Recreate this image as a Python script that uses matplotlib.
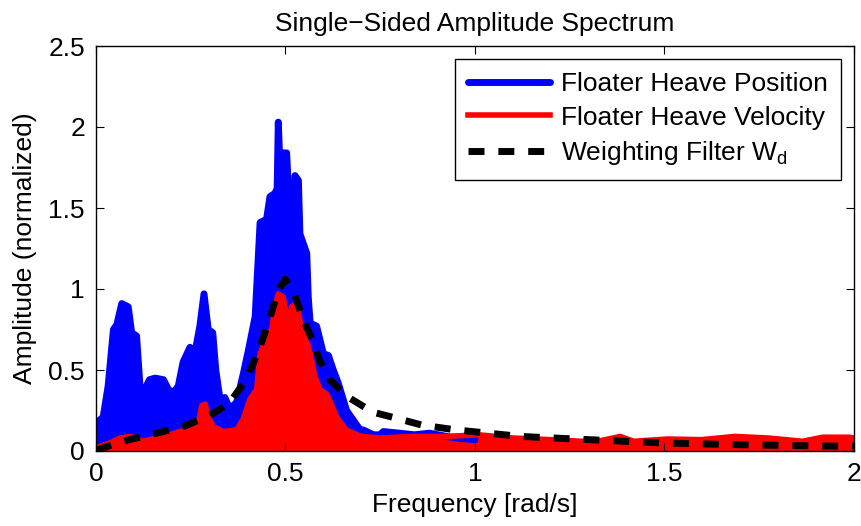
import numpy as np
import matplotlib
matplotlib.use('Agg')
import matplotlib.pyplot as plt

plt.rcParams['font.family'] = ['Liberation Sans', 'DejaVu Sans']
plt.rcParams['mathtext.fontset'] = 'custom'
plt.rcParams['mathtext.rm'] = 'Liberation Sans'

# upper envelope of the position spectrum
f_pos = [0.0, 0.019, 0.032, 0.046, 0.055, 0.068, 0.085, 0.094, 0.107, 0.116,
         0.129, 0.141, 0.156, 0.178, 0.191, 0.204, 0.217, 0.230, 0.248, 0.259,
         0.274, 0.285, 0.296, 0.308, 0.316, 0.327, 0.340, 0.353, 0.371, 0.389,
         0.402, 0.420, 0.424, 0.433, 0.450, 0.459, 0.472, 0.478, 0.481, 0.484,
         0.490, 0.503, 0.509, 0.512, 0.522, 0.525, 0.534, 0.538, 0.556, 0.560,
         0.565, 0.582, 0.600, 0.613, 0.626, 0.639, 0.661, 0.679, 0.697, 0.705,
         0.732, 0.749, 0.758, 0.80, 0.84, 0.88, 0.925, 0.95, 1.0]
a_pos = [0.17, 0.21, 0.40, 0.75, 0.78, 0.91, 0.89, 0.73, 0.71, 0.40,
         0.38, 0.44, 0.45, 0.44, 0.38, 0.36, 0.40, 0.55, 0.64, 0.58,
         0.77, 0.97, 0.75, 0.73, 0.50, 0.32, 0.33, 0.26, 0.30, 0.48,
         0.62, 0.83, 1.01, 1.41, 1.43, 1.57, 1.59, 1.62, 2.03, 1.84,
         1.84, 1.84, 1.55, 1.49, 1.50, 1.70, 1.67, 1.34, 1.22, 0.95,
         0.79, 0.77, 0.60, 0.59, 0.50, 0.42, 0.25, 0.19, 0.13, 0.13,
         0.10, 0.10, 0.12, 0.11, 0.10, 0.11, 0.09, 0.08, 0.07]

# upper envelope of the velocity spectrum
f_vel = [0.0, 0.037, 0.063, 0.090, 0.125, 0.160, 0.195, 0.220, 0.248, 0.270,
         0.279, 0.288, 0.296, 0.310, 0.336, 0.371, 0.389, 0.406, 0.424, 0.433,
         0.455, 0.464, 0.472, 0.481, 0.494, 0.508, 0.516, 0.529, 0.543, 0.560,
         0.578, 0.591, 0.609, 0.617, 0.635, 0.660, 0.700, 0.750, 0.836, 0.924,
         1.01, 1.10, 1.20, 1.28, 1.33, 1.383, 1.419, 1.508, 1.597, 1.686,
         1.775, 1.864, 1.917, 1.988, 2.0]
a_vel = [0.02, 0.05, 0.08, 0.09, 0.06, 0.08, 0.10, 0.12, 0.13, 0.17,
         0.28, 0.29, 0.21, 0.15, 0.12, 0.13, 0.20, 0.32, 0.38, 0.60,
         0.73, 0.75, 0.89, 0.97, 0.95, 0.77, 0.89, 0.91, 0.75, 0.65,
         0.46, 0.38, 0.35, 0.31, 0.21, 0.13, 0.09, 0.08, 0.09, 0.09,
         0.10, 0.08, 0.07, 0.06, 0.063, 0.09, 0.06, 0.074, 0.07, 0.09,
         0.08, 0.06, 0.085, 0.085, 0.08]

# weighting filter magnitude
f_wd = [0.0, 0.07, 0.16, 0.23, 0.30, 0.35, 0.39, 0.415, 0.44, 0.46,
        0.48, 0.50, 0.52, 0.547, 0.57, 0.59, 0.617, 0.66, 0.73, 0.78,
        0.86, 0.95, 1.12, 1.30, 1.49, 1.67, 1.94, 2.0]
a_wd = [0.005, 0.06, 0.11, 0.15, 0.22, 0.29, 0.42, 0.54, 0.69, 0.83,
        0.99, 1.06, 0.99, 0.81, 0.69, 0.56, 0.44, 0.34, 0.24, 0.21,
        0.16, 0.13, 0.09, 0.07, 0.05, 0.04, 0.03, 0.03]

fs = 19

fig = plt.figure(figsize=(8.62, 5.26), dpi=100)
ax = fig.add_axes([96/862, 75/526, 758/862, 405/526])

ax.fill_between(f_pos, 0, a_pos, color='#0000ff', lw=0)
hp, = ax.plot(f_pos, a_pos, color='#0000ff', lw=5, solid_joinstyle='round',
              solid_capstyle='round', label='Floater Heave Position')
ax.fill_between(f_vel, 0, a_vel, color='#ff0000', lw=0)
hv, = ax.plot(f_vel, a_vel, color='#ff0000', lw=4, solid_joinstyle='round',
              label='Floater Heave Velocity')
hw, = ax.plot(f_wd, a_wd, color='black', lw=5, dashes=(2.3, 2.0),
              label=r'Weighting Filter $\mathregular{W_d}$')

ax.set_xlim(0, 2)
ax.set_ylim(0, 2.5)
ax.set_xticks([0, 0.5, 1, 1.5, 2])
ax.set_xticklabels(['0', '0.5', '1', '1.5', '2'])
ax.set_yticks([0, 0.5, 1, 1.5, 2, 2.5])
ax.set_yticklabels(['0', '0.5', '1', '1.5', '2', '2.5'])
ax.tick_params(direction='in', length=6, width=0.8, top=True, right=True,
               labelsize=fs, pad=8)
for s in ax.spines.values():
    s.set_linewidth(1.0)

ax.set_xlabel('Frequency [rad/s]', fontsize=fs, labelpad=5)
ax.set_ylabel('Amplitude (normalized)', fontsize=fs, labelpad=8)
ax.set_title('Single\u2212Sided Amplitude Spectrum', fontsize=fs, pad=11)

leg = ax.legend(handles=[hp, hv, hw], loc='upper right', fontsize=fs,
                fancybox=False, framealpha=1, edgecolor='black',
                handlelength=3.1, handletextpad=0.4, labelspacing=0.35,
                borderaxespad=0.5, borderpad=0.5)
leg.get_frame().set_linewidth(1.0)

plt.savefig('out.png', dpi=100)
